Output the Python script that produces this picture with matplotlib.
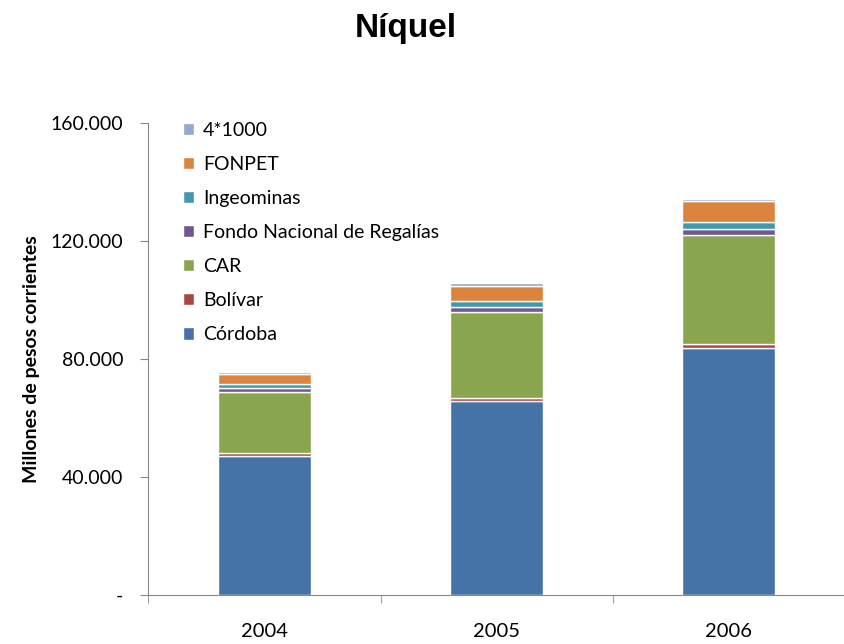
import matplotlib.pyplot as plt
import numpy as np
from matplotlib.ticker import FuncFormatter, FixedLocator

years = ['2004', '2005', '2006']

# millones de pesos
cordoba = [47.0, 65.6, 83.7]
bolivar = [1.0, 1.1, 1.3]
car = [20.9, 29.2, 36.9]
fnr = [1.3, 1.7, 2.3]
ingeominas = [1.2, 2.0, 2.3]
fonpet = [3.4, 5.2, 6.9]
cuatro_mil = [0.8, 0.8, 0.8]

series = [
    ('Córdoba', cordoba, '#4572A7'),
    ('Bolívar', bolivar, '#AA4643'),
    ('CAR', car, '#89A54E'),
    ('Fondo Nacional de Regalías', fnr, '#71588F'),
    ('Ingeominas', ingeominas, '#4198AF'),
    ('FONPET', fonpet, '#DB843D'),
    ('4*1000', cuatro_mil, '#93A9CF'),
]

plt.rcParams['font.family'] = ['Lato', 'DejaVu Sans']

fig = plt.figure(figsize=(8.45, 6.44), dpi=100)
ax = fig.add_axes([0.1757, 0.0761, 0.8243, 0.733])

x = np.arange(len(years))
bottom = np.zeros(len(years))
for name, vals, color in series:
    v = np.array(vals) * 1000
    ax.bar(x, v, 0.4, bottom=bottom, color=color, edgecolor='white',
           linewidth=1.0, label=name)
    bottom += v

ax.set_xlim(-0.5, 2.5)
ax.set_ylim(0, 160000)
ax.yaxis.set_major_locator(FixedLocator([0, 40000, 80000, 120000, 160000]))


def fmt(val, pos):
    if val == 0:
        return '-'
    return f'{int(val):,}'.replace(',', '.')


ax.yaxis.set_major_formatter(FuncFormatter(fmt))
ax.set_xticks(x)
ax.set_xticklabels(years)
ax.set_xticks([-0.5, 0.5, 1.5, 2.5], minor=True)
ax.tick_params(axis='x', which='major', length=0, pad=20, labelsize=14.5)
ax.tick_params(axis='x', which='minor', length=6, color='#888888')
ax.tick_params(axis='y', length=6, color='#888888', labelsize=14, pad=12)

for s in ['top', 'right']:
    ax.spines[s].set_visible(False)
for s in ['left', 'bottom']:
    ax.spines[s].set_color('#888888')

ax.set_ylabel('Millones de pesos corrientes', fontsize=14, fontweight='bold', labelpad=8)

handles, labels = ax.get_legend_handles_labels()
ax.legend(handles[::-1], labels[::-1], loc='upper left', bbox_to_anchor=(0.024, 1.04),
          frameon=False, fontsize=14, labelspacing=0.88, handlelength=0.6,
          handleheight=0.6, handletextpad=0.45)

fig.text(0.48, 0.955, 'Níquel', ha='center', va='center', fontsize=24,
         fontweight='bold', family='Liberation Sans')

fig.savefig('out.png', dpi=100)
